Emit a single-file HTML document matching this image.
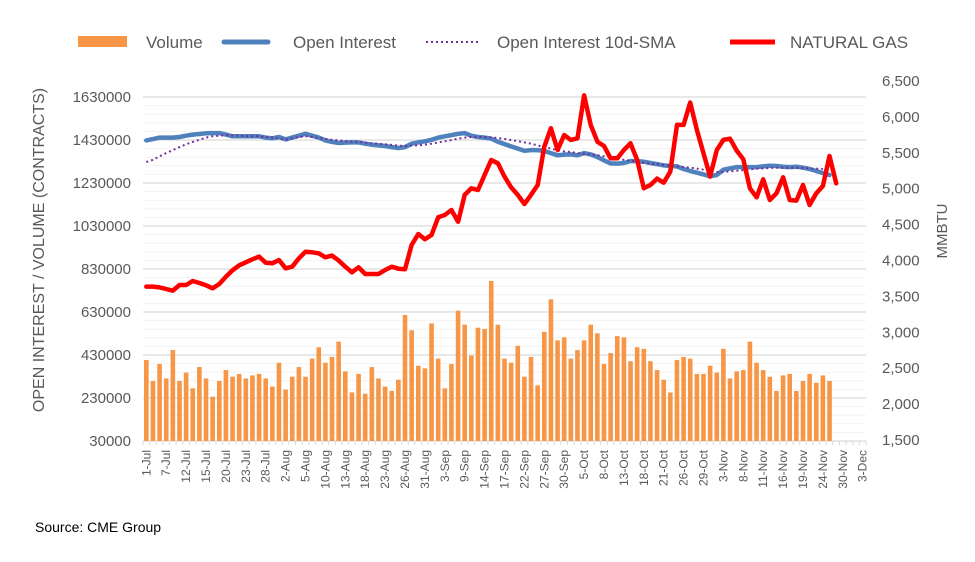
<!DOCTYPE html>
<html><head><meta charset="utf-8"><style>
body{margin:0;background:#fff;}
svg{display:block;font-family:"Liberation Sans",sans-serif;}
</style></head><body>
<svg id="chart" width="975" height="562" viewBox="0 0 975 562" xmlns="http://www.w3.org/2000/svg">
<g id="grid"></g>
<g id="bars"></g>
<g id="lines"></g>
<g id="yl" font-size="15" fill="#595959" text-anchor="end"></g>
<g id="yr" font-size="15" fill="#595959"></g>
<g id="xl" font-size="12" fill="#595959"></g>
<text transform="translate(44,250) rotate(-90)" text-anchor="middle" font-size="16" fill="#595959">OPEN INTEREST / VOLUME (CONTRACTS)</text>
<text transform="translate(947,231) rotate(-90)" text-anchor="middle" font-size="15" fill="#595959">MMBTU</text>
<g font-size="17" fill="#595959">
<rect x="78" y="36" width="49" height="11" fill="#f79646"/>
<text x="146" y="48">Volume</text>
<line x1="224" y1="42" x2="268" y2="42" stroke="#4f81bd" stroke-width="5" stroke-linecap="round"/>
<text x="293" y="48">Open Interest</text>
<line x1="426" y1="42" x2="478" y2="42" stroke="#7030a0" stroke-width="2" stroke-dasharray="2,3"/>
<text x="497" y="48">Open Interest 10d-SMA</text>
<line x1="730" y1="42" x2="775" y2="42" stroke="#ff0000" stroke-width="5"/>
<text x="790" y="48">NATURAL GAS</text>
</g>
<text x="35" y="532" font-size="14" fill="#000">Source: CME Group</text>
</svg>
<script>
const xLabels=["1-Jul","7-Jul","12-Jul","15-Jul","20-Jul","23-Jul","28-Jul","2-Aug","5-Aug","10-Aug","13-Aug","18-Aug","23-Aug","26-Aug","31-Aug","3-Sep","9-Sep","14-Sep","17-Sep","22-Sep","27-Sep","30-Sep","5-Oct","8-Oct","13-Oct","18-Oct","21-Oct","26-Oct","29-Oct","3-Nov","8-Nov","11-Nov","16-Nov","19-Nov","24-Nov","30-Nov","3-Dec"];
const leftTicks=[30000,230000,430000,630000,830000,1030000,1230000,1430000,1630000];
const rightTicks=[1500,2000,2500,3000,3500,4000,4500,5000,5500,6000,6500];
const volume=[407,309,388,321,453,309,348,275,374,321,236,309,360,329,342,321,335,342,321,283,394,269,329,374,329,413,466,394,421,492,354,256,342,250,374,321,283,263,315,616,545,380,368,577,413,275,388,636,571,427,557,551,774,571,413,394,473,329,421,289,538,689,498,512,413,453,498,571,531,388,439,518,512,401,466,459,401,360,315,256,407,421,413,342,342,380,348,459,321,354,360,492,394,360,329,263,335,342,263,309,342,301,335,309];
const openInterest=[1428,1434,1441,1441,1441,1444,1450,1455,1458,1461,1462,1462,1455,1447,1447,1447,1447,1447,1441,1438,1444,1433,1441,1450,1459,1450,1441,1428,1421,1416,1418,1419,1419,1413,1408,1405,1402,1397,1393,1397,1413,1419,1424,1431,1441,1447,1453,1459,1462,1450,1444,1441,1436,1422,1411,1400,1390,1380,1383,1383,1379,1369,1359,1362,1363,1359,1369,1363,1351,1335,1321,1320,1323,1332,1332,1329,1323,1318,1312,1309,1307,1295,1286,1278,1270,1261,1267,1292,1298,1304,1304,1304,1304,1307,1310,1309,1306,1304,1306,1301,1295,1286,1276,1267];
const oiSma=[1327,1338,1354,1369,1383,1397,1410,1421,1431,1441,1447,1450,1453,1451,1450,1448,1447,1447,1444,1441,1436,1431,1438,1444,1447,1444,1439,1435,1431,1428,1425,1422,1421,1418,1414,1413,1410,1407,1404,1402,1404,1405,1408,1413,1419,1424,1430,1436,1441,1444,1444,1444,1442,1439,1435,1430,1425,1419,1413,1405,1397,1390,1382,1377,1374,1369,1366,1363,1359,1354,1348,1342,1338,1334,1329,1324,1320,1317,1314,1310,1307,1304,1301,1297,1292,1286,1281,1281,1284,1287,1290,1293,1297,1298,1300,1301,1301,1301,1300,1300,1298,1297,1295];
const gas=[3636,3636,3626,3603,3580,3659,3659,3715,3687,3654,3613,3673,3775,3863,3933,3975,4017,4054,3970,3961,4007,3891,3914,4030,4123,4114,4100,4044,4068,3998,3914,3835,3905,3812,3812,3812,3868,3914,3886,3877,4216,4369,4295,4355,4602,4634,4704,4541,4913,5005,4982,5191,5400,5354,5168,5019,4913,4787,4913,5052,5586,5841,5539,5748,5679,5702,6300,5888,5655,5595,5423,5423,5539,5632,5400,5005,5052,5140,5084,5238,5888,5888,6200,5818,5493,5168,5539,5679,5697,5530,5409,5005,4880,5131,4843,4936,5159,4843,4834,5052,4773,4936,5038,5456,5075];

const NS="http://www.w3.org/2000/svg";
const X0=143,X1=866,Y0=97,Y1=441,NCAT=109,STEP=(X1-X0)/NCAT;
const xPos=i=>X0+STEP*(i+0.5);
const yLeft=v=>Y1-(v-30000)/1600000*(Y1-Y0);
const yRight=v=>440-(v-1500)/5000*(440-81);
function mk(tag,attrs,parent){const e=document.createElementNS(NS,tag);for(const k in attrs)e.setAttribute(k,attrs[k]);parent.appendChild(e);return e;}
const grid=document.getElementById('grid');
for(let k=0;k<=40;k++){const y=Y1-k*(Y1-Y0)/40;const major=k%5===0;
 const l=mk('line',{x1:X0,x2:X1,y1:y,y2:y,stroke:major?'#d9d9d9':'#f2f2f2','stroke-width':major?1.2:1},grid);
 
 }
const ax=mk('line',{x1:X0,x2:X1,y1:Y1,y2:Y1,stroke:'#d9d9d9'},grid);


for(let i=0;i<=NCAT;i++){const t=mk('line',{x1:X0+STEP*i,x2:X0+STEP*i,y1:Y1,y2:Y1+4,stroke:'#d9d9d9'},grid);
 
 }
const bars=document.getElementById('bars');
volume.forEach((v,i)=>{const y=yLeft(v*1000);const r=mk('rect',{x:xPos(i)-2.3,y:y,width:4.6,height:Y1-y,fill:'#f79646'},bars);
 
 });
const lines=document.getElementById('lines');
function path(arr,fy,attrs,name){const d=arr.map((v,i)=>(i?'L':'M')+xPos(i).toFixed(1)+','+fy(v).toFixed(1)).join('');
 const p=mk('path',Object.assign({d:d,fill:'none','stroke-linejoin':'round'},attrs),lines);
 
 }
path(openInterest,v=>yLeft(v*1000),{stroke:'#4f81bd','stroke-width':4.5,'stroke-linecap':'round'},'open-interest-line');
path(oiSma,v=>yLeft(v*1000),{stroke:'#7030a0','stroke-width':2,'stroke-dasharray':'2,3'},'open-interest-sma-line');
path(gas,yRight,{stroke:'#ff0000','stroke-width':4.5,'stroke-linecap':'round'},'natural-gas-line');
const yl=document.getElementById('yl');
leftTicks.forEach(v=>{const t=mk('text',{x:131,y:yLeft(v)+5},yl);t.textContent=v;
 
 });
const yr=document.getElementById('yr');
rightTicks.forEach(v=>{const t=mk('text',{x:882,y:yRight(v)+5},yr);t.textContent=v.toLocaleString('en-US');
 
 });
const xl=document.getElementById('xl');
xLabels.forEach((s,k)=>{const x=xPos(k*3)+4;const t=mk('text',{transform:`translate(${x.toFixed(1)},450) rotate(-90)`,'text-anchor':'end'},xl);t.textContent=s;
 
 });
</script>
</body></html>
